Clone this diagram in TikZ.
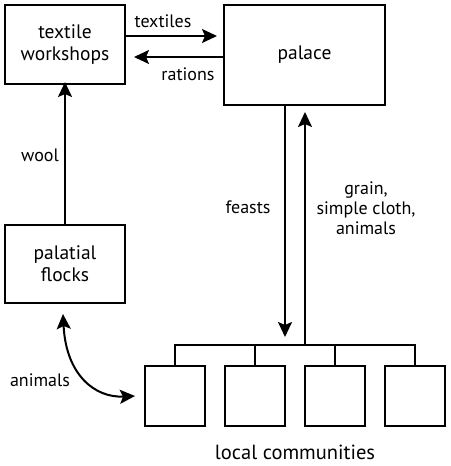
\documentclass[tikz,border=0pt]{standalone}
\usepackage{fontspec}
\setmainfont{PT Sans}
\usetikzlibrary{arrows.meta,calc}
\tikzset{
  box/.style={draw,line width=2pt,inner sep=0pt,align=center,font=\fontsize{19.5}{22}\selectfont},
  tip/.style={Stealth[length=15pt,width=14pt,inset=3pt]},
  arr/.style={line width=2pt,-{Stealth[length=15pt,width=14pt,inset=3pt]}},
  darr/.style={line width=2pt,{Stealth[length=15pt,width=14pt,inset=3pt]}-{Stealth[length=15pt,width=14pt,inset=3pt]}},
  lbl/.style={align=center,font=\fontsize{18}{20}\selectfont}
}
\begin{document}
\begin{tikzpicture}[x=1pt,y=-1pt]
\useasboundingbox (0,0) rectangle (450,466);
\node[box,minimum width=120pt,minimum height=79pt] (tw) at (65,44.5) {textile\\workshops};
\node[box,minimum width=161pt,minimum height=100pt] (pal) at (304.5,55) {palace};
\node[box,minimum width=120pt,minimum height=78pt] (pf) at (65,264) {palatial\\flocks};
\foreach \i/\x in {1/175,2/255,3/335,4/415}
  \node[box,minimum width=60pt,minimum height=60pt] (c\i) at (\x,396) {};
\coordinate (ty) at (0,36);
\coordinate (ry) at (0,57);
\coordinate (bar) at (0,345);
\coordinate (fx) at (285,0);
\coordinate (gx) at (305,0);
\coordinate (fend) at (285,337);
\coordinate (gtop) at (305,112);
\draw[arr] (tw.east |- ty) -- ([xshift=-6pt]pal.west |- ty);
\draw[arr] (pal.west |- ry) -- ([xshift=8pt]tw.east |- ry);
\draw[arr] (pf.north) -- ([yshift=3pt]tw.south);
\draw[arr] (pal.south -| fx) -- (fend);
\draw[arr] (gx |- bar) -- (gtop);
\draw[line width=2pt] (c1.north) |- (c4.north |- bar) -- (c4.north);
\draw[line width=2pt] (c2.north) -- (c2.north |- bar);
\draw[line width=2pt] (c3.north) -- (c3.north |- bar);
\draw[darr] ([xshift=-2pt,yshift=-10pt]pf.south) .. controls (66,375) and (95,398) .. ([xshift=-9pt]c1.west);
\node[lbl] (lt) at (163,21) {textiles};
\node[lbl] (lr) at (188,74) {rations};
\node[lbl] (lw) at (40,155) {wool};
\node[lbl] (la) at (40,380) {animals};
\node[lbl] (lf) at (248,207) {feasts};
\node[lbl] (lg) at (366,208) {grain,\\simple cloth,\\animals};
\node[lbl,font=\fontsize{20.5}{22}\selectfont] (lc) at (295,452) {local communities};
\end{tikzpicture}
\end{document}
